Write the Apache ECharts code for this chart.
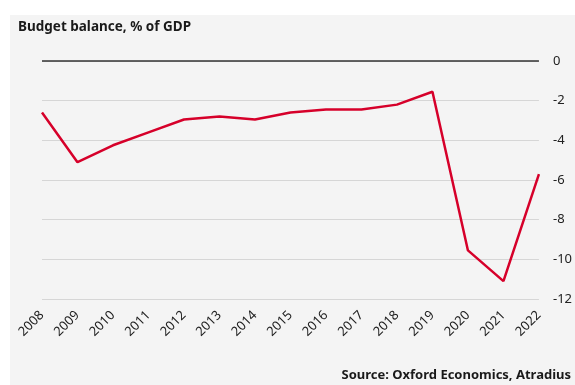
<!DOCTYPE html>
<html>
<head>
<meta charset="utf-8">
<script src="https://cdn.jsdelivr.net/npm/echarts@6/dist/echarts.min.js"></script>
<style>
  html, body { margin: 0; padding: 0; background: #fff; }
  #chart { width: 575px; height: 385px; }
</style>
</head>
<body>
<div id="chart"></div>
<script>
// Budget balance, % of GDP
const years = ['2008', '2009', '2010', '2011', '2012', '2013', '2014', '2015',
  '2016', '2017', '2018', '2019', '2020', '2021', '2022'];
const balance = [-2.6, -5.1, -4.25, -3.6, -2.95, -2.8, -2.95, -2.6,
  -2.45, -2.45, -2.2, -1.55, -9.55, -11.1, -5.7];
const yTicks = { min: -12, max: 0, step: 2 };

const font = '"Noto Sans", sans-serif';

const chart = echarts.init(document.getElementById('chart'));
chart.setOption({
  backgroundColor: '#fff',
  animation: false,
  graphic: [
    {
      type: 'rect',
      left: 10, top: 15,
      shape: { width: 565, height: 370 },
      style: { fill: '#f4f4f4' },
      z: -10
    },
    {
      type: 'text',
      left: 18, top: 20,
      style: { text: 'Budget balance, % of GDP', font: 'bold 13.5px ' + font, fill: '#1a1a1a' }
    },
    {
      type: 'text',
      right: 4, top: 369,
      style: { text: 'Source: Oxford Economics, Atradius', font: 'bold 13px ' + font, fill: '#1a1a1a' }
    }
  ],
  grid: { left: 42, right: 34, top: 61, bottom: 86 },
  xAxis: {
    type: 'category',
    data: years,
    boundaryGap: false,
    axisLine: { show: false },
    axisTick: { show: false },
    axisLabel: {
      rotate: 45,
      margin: 14,
      color: '#222',
      fontFamily: font,
      fontSize: 13
    }
  },
  yAxis: {
    type: 'value',
    position: 'right',
    min: yTicks.min,
    max: yTicks.max,
    interval: yTicks.step,
    axisLine: { show: false },
    axisTick: { show: false },
    axisLabel: { margin: 14, color: '#222', fontFamily: font, fontSize: 13 },
    splitLine: { lineStyle: { color: '#d6d6d6', width: 1 } }
  },
  series: [{
    type: 'line',
    data: balance,
    symbol: 'none',
    lineStyle: { color: '#d6002a', width: 2.5 },
    markLine: {
      silent: true,
      symbol: 'none',
      label: { show: false },
      lineStyle: { color: '#333', width: 1.5, type: 'solid' },
      data: [{ yAxis: 0 }]
    }
  }]
});
</script>
</body>
</html>
